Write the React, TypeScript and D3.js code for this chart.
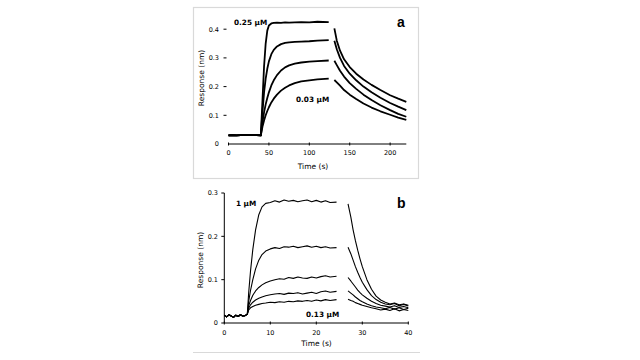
import React from 'react'
import * as d3 from 'd3'

// ---- panel a (0 - 220 s) ----
const aBaseTime = [0, 5, 10, 15, 20, 25, 30, 35, 40]
const aBaseVals = [0.03, 0.031, 0.03, 0.031, 0.032, 0.031, 0.032, 0.031, 0.03]
const aAssocTime = [40, 42, 44, 46, 48, 50, 53, 56, 60, 65, 70, 75, 82, 90, 100, 110, 124]
const aAssoc = [
  [0.03, 0.15, 0.27, 0.35, 0.395, 0.413, 0.42, 0.422, 0.423, 0.422, 0.424, 0.423, 0.424, 0.425, 0.424, 0.426, 0.425],
  [0.03, 0.11, 0.18, 0.228, 0.262, 0.288, 0.313, 0.328, 0.34, 0.348, 0.352, 0.354, 0.356, 0.357, 0.358, 0.36, 0.362],
  [0.03, 0.075, 0.11, 0.138, 0.16, 0.18, 0.204, 0.222, 0.24, 0.256, 0.267, 0.274, 0.28, 0.284, 0.287, 0.289, 0.291],
  [0.03, 0.06, 0.082, 0.1, 0.115, 0.128, 0.145, 0.158, 0.172, 0.186, 0.196, 0.204, 0.212, 0.218, 0.222, 0.225, 0.228],
]
const aDissTime = [131, 134, 138, 143, 150, 158, 167, 177, 188, 200, 210, 220]
const aDiss = [
  [0.403, 0.36, 0.325, 0.295, 0.268, 0.245, 0.225, 0.206, 0.188, 0.17, 0.158, 0.147],
  [0.36, 0.33, 0.3, 0.272, 0.245, 0.222, 0.2, 0.18, 0.161, 0.143, 0.13, 0.118],
  [0.29, 0.275, 0.255, 0.235, 0.212, 0.192, 0.172, 0.153, 0.135, 0.118, 0.105, 0.095],
  [0.223, 0.215, 0.203, 0.188, 0.172, 0.157, 0.141, 0.127, 0.114, 0.102, 0.092, 0.084],
]
const aXTicks = [0, 50, 100, 150, 200]
const aYTicks = [0, 0.1, 0.2, 0.3, 0.4]

// ---- panel b (0 - 40 s) ----
const bBaseTime = [0, 0.5, 1, 1.5, 2, 2.5, 3, 3.5, 4, 4.5, 5]
const bBaseVals = [0.018, 0.014, 0.019, 0.016, 0.013, 0.018, 0.015, 0.019, 0.016, 0.017, 0.02]
const bAssocTime = [5, 5.3, 5.7, 6.2, 6.8, 7.5, 8.2, 9, 10, 11, 12, 13, 14, 15, 16, 17, 18, 19, 20, 21, 22, 23, 24.4]
const bAssoc = [
  [0.02, 0.07, 0.12, 0.17, 0.215, 0.25, 0.268, 0.276, 0.278, 0.282, 0.279, 0.284, 0.281, 0.283, 0.28, 0.282, 0.284, 0.28, 0.283, 0.279, 0.282, 0.278, 0.279],
  [0.02, 0.05, 0.075, 0.1, 0.125, 0.145, 0.158, 0.166, 0.171, 0.174, 0.172, 0.176, 0.175, 0.177, 0.174, 0.176, 0.178, 0.175, 0.177, 0.174, 0.176, 0.173, 0.174],
  [0.02, 0.04, 0.052, 0.064, 0.074, 0.082, 0.088, 0.093, 0.097, 0.1, 0.102, 0.101, 0.105, 0.103, 0.106, 0.104, 0.103, 0.106, 0.104, 0.107, 0.109, 0.106, 0.108],
  [0.02, 0.034, 0.042, 0.048, 0.053, 0.057, 0.06, 0.063, 0.065, 0.067, 0.068, 0.066, 0.069, 0.068, 0.07, 0.067, 0.069, 0.071, 0.068, 0.072, 0.074, 0.071, 0.073],
  [0.02, 0.03, 0.035, 0.038, 0.041, 0.043, 0.045, 0.046, 0.048, 0.047, 0.049, 0.048, 0.05, 0.049, 0.051, 0.05, 0.052, 0.05, 0.053, 0.051, 0.054, 0.052, 0.054],
]
const bDissTime = [26.9, 27.5, 28, 28.5, 29, 29.5, 30, 31, 32, 33, 34, 35, 36, 37, 38, 39, 40]
const bDiss = [
  [0.275, 0.245, 0.215, 0.19, 0.168, 0.148, 0.13, 0.1, 0.078, 0.062, 0.053, 0.048, 0.044, 0.046, 0.042, 0.044, 0.041],
  [0.175, 0.16, 0.145, 0.13, 0.117, 0.105, 0.094, 0.077, 0.063, 0.054, 0.048, 0.044, 0.042, 0.045, 0.04, 0.043, 0.039],
  [0.105, 0.097, 0.09, 0.083, 0.076, 0.07, 0.065, 0.057, 0.05, 0.045, 0.041, 0.039, 0.037, 0.04, 0.036, 0.038, 0.035],
  [0.074, 0.069, 0.065, 0.06, 0.056, 0.052, 0.049, 0.044, 0.04, 0.037, 0.035, 0.033, 0.036, 0.032, 0.035, 0.031, 0.034],
  [0.055, 0.052, 0.05, 0.047, 0.045, 0.043, 0.041, 0.038, 0.035, 0.033, 0.03, 0.032, 0.029, 0.033, 0.028, 0.031, 0.029],
]
const bXTicks = [0, 10, 20, 30, 40]
const bYTicks = [0, 0.1, 0.2, 0.3]

const font = '"DejaVu Sans", Verdana, sans-serif'

const zip = (t: number[], v: number[]) => t.map((d, i) => [d, v[i]] as [number, number])

const App = () => {
  // scales
  const ax = d3.scaleLinear().domain([0, 220]).range([228.5, 406.3])
  const ay = d3.scaleLinear().domain([0, 0.4]).range([144, 29.2])
  const bx = d3.scaleLinear().domain([0, 40]).range([224.3, 408.3])
  const by = d3.scaleLinear().domain([0, 0.3]).range([323, 193])

  const aLine = d3.line<[number, number]>().x(d => ax(d[0])).y(d => ay(d[1]))
  const bLine = d3.line<[number, number]>().x(d => bx(d[0])).y(d => by(d[1]))

  const aBase = zip(aBaseTime, aBaseVals)
  const bBase = zip(bBaseTime, bBaseVals)

  return (
    <svg width={640} height={360} style={{ position: 'absolute', left: 0, top: 0, background: '#fff' }}>
      {/* ---------- panel a ---------- */}
      <rect x={193.5} y={7.5} width={225} height={171} fill="none" stroke="#d9d9d9" strokeWidth={1.2} />
      <g fill="none" stroke="#000" strokeWidth={1.8} strokeLinejoin="round">
        {aAssoc.map((vals, i) => (
          <path key={'aa' + i} d={aLine(aBase.concat(zip(aAssocTime, vals))) || ''} />
        ))}
        {aDiss.map((vals, i) => (
          <path key={'ad' + i} d={aLine(zip(aDissTime, vals)) || ''} />
        ))}
      </g>
      <line x1={ax(0)} x2={ax(220)} y1={ay(0)} y2={ay(0)} stroke="#000" strokeWidth={1} />
      {aXTicks.map(t => (
        <g key={'axt' + t}>
          <line x1={ax(t)} x2={ax(t)} y1={ay(0) - 1.5} y2={ay(0) + 1.5} stroke="#000" strokeWidth={1} />
          <text x={ax(t)} y={ay(0) + 11} fontSize={6.5} fontFamily={font} textAnchor="middle">{t}</text>
        </g>
      ))}
      {aYTicks.map(t => (
        <g key={'ayt' + t}>
          {t > 0 && <line x1={223.5} x2={226.5} y1={ay(t)} y2={ay(t)} stroke="#000" strokeWidth={1} />}
          <text x={219} y={ay(t) + 2.3} fontSize={6.5} fontFamily={font} textAnchor="end">{t}</text>
        </g>
      ))}
      <text x={313} y={169} fontSize={7.5} fontFamily={font} textAnchor="middle">Time (s)</text>
      <text transform="translate(203.5,78) rotate(-90)" fontSize={7.5} fontFamily={font} textAnchor="middle">Response (nm)</text>
      <text x={234} y={25} fontSize={7.3} fontWeight="bold" fontFamily={font}>0.25 µM</text>
      <text x={296} y={102} fontSize={7.3} fontWeight="bold" fontFamily={font}>0.03 µM</text>
      <text x={397} y={27} fontSize={14} fontWeight="bold" fontFamily='"Liberation Sans", Arial, sans-serif'>a</text>

      {/* ---------- panel b ---------- */}
      <line x1={193} x2={420} y1={352.5} y2={352.5} stroke="#d9d9d9" strokeWidth={1.2} />
      <g fill="none" stroke="#000" strokeWidth={1.1} strokeLinejoin="round">
        {bAssoc.map((vals, i) => (
          <path key={'ba' + i} d={bLine(bBase.concat(zip(bAssocTime, vals))) || ''} />
        ))}
        {bDiss.map((vals, i) => (
          <path key={'bd' + i} d={bLine(zip(bDissTime, vals)) || ''} />
        ))}
      </g>
      <line x1={bx(0)} x2={bx(40)} y1={by(0)} y2={by(0)} stroke="#000" strokeWidth={1} />
      <line x1={bx(0)} x2={bx(0)} y1={by(0)} y2={by(0.3)} stroke="#000" strokeWidth={1} />
      {bXTicks.map(t => (
        <g key={'bxt' + t}>
          <line x1={bx(t)} x2={bx(t)} y1={by(0) - 1.5} y2={by(0) + 1.5} stroke="#000" strokeWidth={1} />
          <text x={bx(t)} y={by(0) + 12} fontSize={6.5} fontFamily={font} textAnchor="middle">{t}</text>
        </g>
      ))}
      {bYTicks.map(t => (
        <g key={'byt' + t}>
          <line x1={bx(0) - 3} x2={bx(0)} y1={by(t)} y2={by(t)} stroke="#000" strokeWidth={1} />
          <text x={218} y={by(t) + 2.3} fontSize={6.5} fontFamily={font} textAnchor="end">{t}</text>
        </g>
      ))}
      <text x={316.5} y={346} fontSize={7.5} fontFamily={font} textAnchor="middle">Time (s)</text>
      <text transform="translate(202.5,260) rotate(-90)" fontSize={7.5} fontFamily={font} textAnchor="middle">Response (nm)</text>
      <text x={236} y={206} fontSize={7.3} fontWeight="bold" fontFamily={font}>1 µM</text>
      <text x={306} y={317} fontSize={7.3} fontWeight="bold" fontFamily={font}>0.13 µM</text>
      <text x={397} y={208} fontSize={14} fontWeight="bold" fontFamily='"Liberation Sans", Arial, sans-serif'>b</text>
    </svg>
  )
}

export default App
